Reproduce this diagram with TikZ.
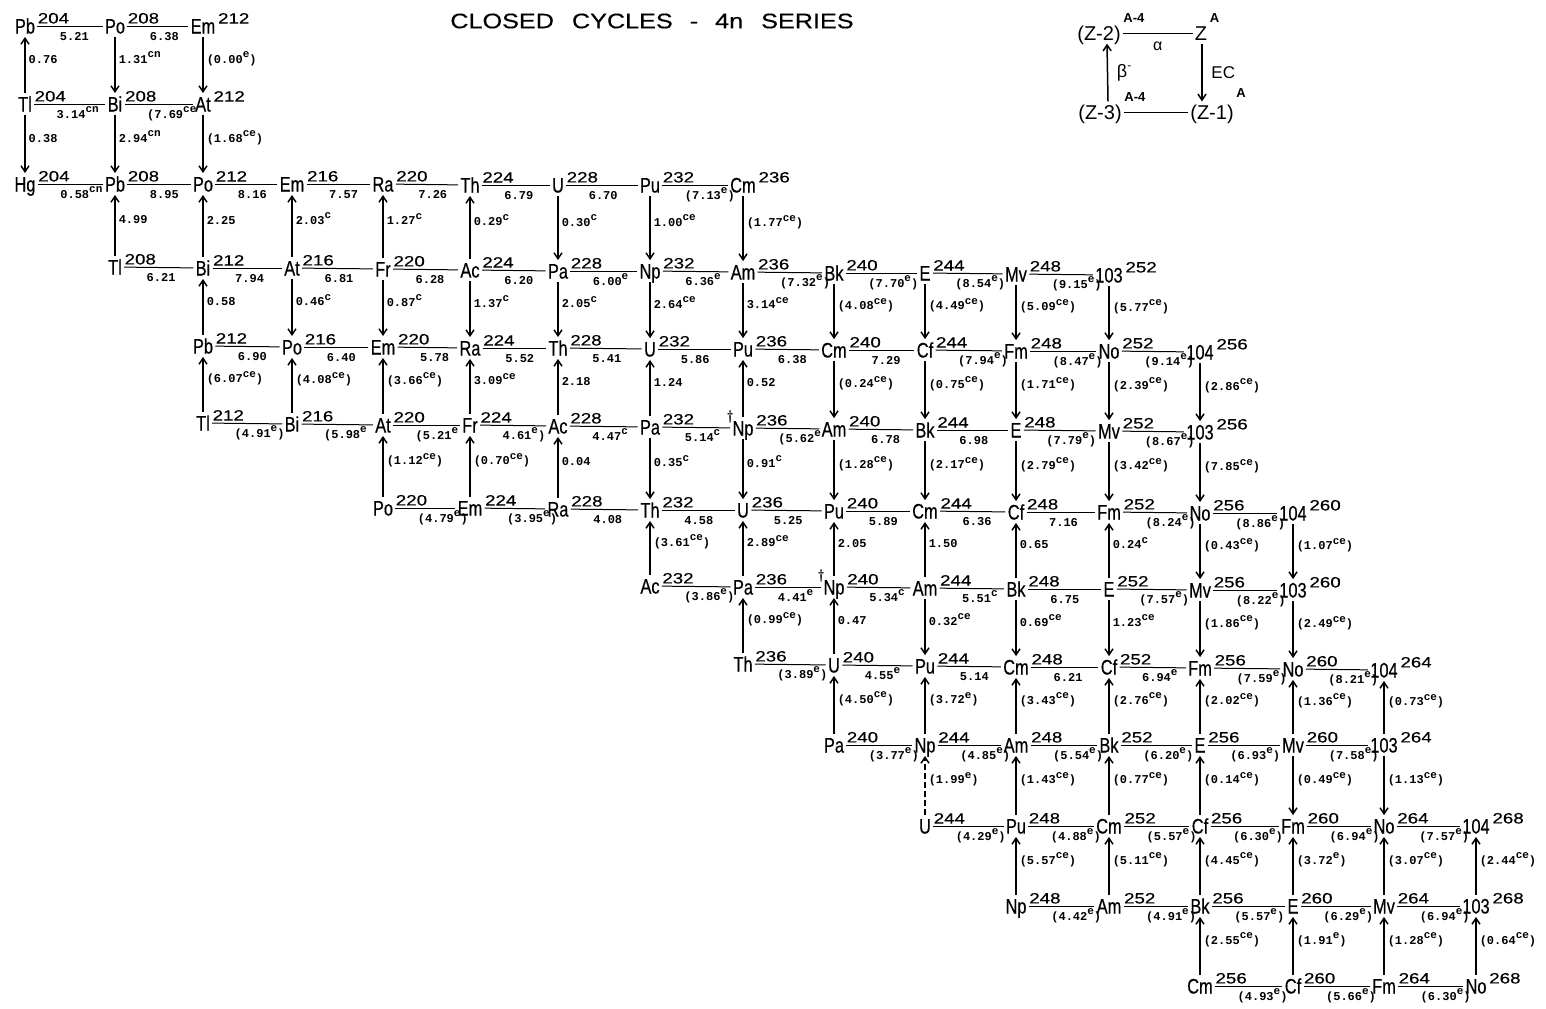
\documentclass[tikz,border=0pt]{standalone}
\usepackage{fontspec}
\usetikzlibrary{arrows.meta}
\newfontfamily\symfont[FakeStretch=0.78,FakeBold=0.4]{Liberation Sans}
\newfontfamily\massfont[FakeStretch=1.25,FakeBold=0.3]{Liberation Sans}
\newfontfamily\numfont{Liberation Mono}
\newfontfamily\legfont{Liberation Sans}
\newfontfamily\titlefont[FakeStretch=1.2,FakeBold=0.4]{Liberation Sans}
\newcommand\su[1]{\raisebox{2.6pt}{\fontsize{5.5}{6}\selectfont #1}}
\newcommand\isonode[5]{\node[sym] (#1) at (#2,#3) {#4};
  \node[mass] (#1m) at ([yshift=1pt]#1.east) {#5};}
\begin{document}
\begin{tikzpicture}[x=0.5pt,y=-0.5pt,
  sym/.style={inner xsep=1pt, inner ysep=1.5pt, text height=7.5pt, text depth=0pt,
    font={\symfont\fontsize{10.5}{12}\selectfont}},
  mass/.style={anchor=south west, inner sep=0pt, font={\massfont\fontsize{7.5}{8}\selectfont}},
  hline/.style={line width=0.5pt},
  varrow/.style={line width=0.75pt, -{Straight Barb[length=3pt,width=4pt]}},
  numf/.style={inner sep=0pt, font={\numfont\bfseries\fontsize{6}{7}\selectfont}},
  hlab/.style={numf, at start, anchor=base west, xshift=11pt, yshift=-7pt},
  vlab/.style={numf, midway, anchor=base west, xshift=1.5pt, yshift=1pt},
  dag/.style={anchor=south, inner sep=0pt, font={\bfseries\fontsize{7}{7}\selectfont}},
  leg/.style={inner xsep=1pt, inner ysep=1.5pt, text height=7.2pt, text depth=0pt,
    font={\legfont\fontsize{10}{12}\selectfont}},
  legsup/.style={anchor=south west, inner sep=0pt, font={\legfont\bfseries\fontsize{6.5}{7}\selectfont}}
]
\useasboundingbox (0,0) rectangle (1546,1008);

\node[font={\titlefont\fontsize{10.5}{12}\selectfont}] (title) at (652,21)
  {CLOSED\hspace{9pt}CYCLES\hspace{8.5pt}-\hspace{8.5pt}4n\hspace{9pt}SERIES};

% legend
\node[leg] (lz2) at (1099,33) {(Z-2)};
\node[legsup] (lz2s) at (lz2.north east) {A-4};
\node[leg] (lz) at (1201,33) {Z};
\node[legsup] (lzs) at (lz.north east) {A};
\node[leg] (lz3) at (1100,112) {(Z-3)};
\node[legsup] (lz3s) at (lz3.north east) {A-4};
\node[leg] (lz1) at (1212,112) {(Z-1)};
\node[legsup] (lz1s) at ([yshift=2pt]lz1.north east) {A};
\draw[hline] (lz2) -- (lz) node[midway, below=1pt, font={\legfont\fontsize{8}{9}\selectfont}] {α};
\draw[hline] (lz3) -- (lz1);
\draw[varrow] ([xshift=0.5pt]lz.south) -- ([xshift=-5pt]lz1.north)
  node[midway, right=1pt, font={\legfont\fontsize{8.5}{9}\selectfont}] {EC};
\draw[varrow] ([xshift=4pt]lz3.north) -- ([xshift=4pt]lz2.south)
  node[midway, right=1pt, font={\legfont\fontsize{9}{9}\selectfont}] {β\textsuperscript{-}};

% nuclides
\isonode{pb204}{25}{26}{Pb}{204}
\isonode{po208}{115}{26}{Po}{208}
\isonode{em212}{203}{26}{Em}{212}
\isonode{tl204}{25}{104}{Tl}{204}
\isonode{bi208}{115}{104}{Bi}{208}
\isonode{at212}{203}{104}{At}{212}
\isonode{hg204}{25}{184}{Hg}{204}
\isonode{pb208}{115}{184}{Pb}{208}
\isonode{po212}{203}{184}{Po}{212}
\isonode{em216}{292}{184}{Em}{216}
\isonode{ra220}{383}{184}{Ra}{220}
\isonode{th224}{470}{185}{Th}{224}
\isonode{u228}{558}{185}{U}{228}
\isonode{pu232}{650}{185}{Pu}{232}
\isonode{cm236}{743}{185}{Cm}{236}
\isonode{tl208}{115}{267}{Tl}{208}
\isonode{bi212}{203}{268}{Bi}{212}
\isonode{at216}{292}{268}{At}{216}
\isonode{fr220}{383}{269}{Fr}{220}
\isonode{ac224}{470}{270}{Ac}{224}
\isonode{pa228}{558}{271}{Pa}{228}
\isonode{np232}{650}{271}{Np}{232}
\isonode{am236}{743}{272}{Am}{236}
\isonode{bk240}{834}{273}{Bk}{240}
\isonode{e244}{925}{273}{E}{244}
\isonode{mv248}{1016}{274}{Mv}{248}
\isonode{lr252}{1109}{275}{103}{252}
\isonode{pb212}{203}{346}{Pb}{212}
\isonode{po216}{292}{347}{Po}{216}
\isonode{em220}{383}{347}{Em}{220}
\isonode{ra224}{470}{348}{Ra}{224}
\isonode{th228}{558}{348}{Th}{228}
\isonode{u232}{650}{349}{U}{232}
\isonode{pu236}{743}{349}{Pu}{236}
\isonode{cm240}{834}{350}{Cm}{240}
\isonode{cf244}{925}{350}{Cf}{244}
\isonode{fm248}{1016}{351}{Fm}{248}
\isonode{no252}{1109}{351}{No}{252}
\isonode{rf256}{1200}{352}{104}{256}
\isonode{tl212}{203}{423}{Tl}{212}
\isonode{bi216}{292}{424}{Bi}{216}
\isonode{at220}{383}{425}{At}{220}
\isonode{fr224}{470}{425}{Fr}{224}
\isonode{ac228}{558}{426}{Ac}{228}
\isonode{pa232}{650}{427}{Pa}{232}
\isonode{np236}{743}{428}{Np}{236}
\isonode{am240}{834}{429}{Am}{240}
\isonode{bk244}{925}{430}{Bk}{244}
\isonode{e248}{1016}{430}{E}{248}
\isonode{mv252}{1109}{431}{Mv}{252}
\isonode{lr256}{1200}{432}{103}{256}
\isonode{po220}{383}{508}{Po}{220}
\isonode{em224}{470}{508}{Em}{224}
\isonode{ra228}{558}{509}{Ra}{228}
\isonode{th232}{650}{510}{Th}{232}
\isonode{u236}{743}{510}{U}{236}
\isonode{pu240}{834}{511}{Pu}{240}
\isonode{cm244}{925}{511}{Cm}{244}
\isonode{cf248}{1016}{512}{Cf}{248}
\isonode{fm252}{1109}{512}{Fm}{252}
\isonode{no256}{1200}{513}{No}{256}
\isonode{rf260}{1293}{513}{104}{260}
\isonode{ac232}{650}{586}{Ac}{232}
\isonode{pa236}{743}{587}{Pa}{236}
\isonode{np240}{834}{587}{Np}{240}
\isonode{am244}{925}{588}{Am}{244}
\isonode{bk248}{1016}{589}{Bk}{248}
\isonode{e252}{1109}{589}{E}{252}
\isonode{mv256}{1200}{590}{Mv}{256}
\isonode{lr260}{1293}{590}{103}{260}
\isonode{th236}{743}{664}{Th}{236}
\isonode{u240}{834}{665}{U}{240}
\isonode{pu244}{925}{666}{Pu}{244}
\isonode{cm248}{1016}{667}{Cm}{248}
\isonode{cf252}{1109}{667}{Cf}{252}
\isonode{fm256}{1200}{668}{Fm}{256}
\isonode{no260}{1293}{669}{No}{260}
\isonode{rf264}{1384}{670}{104}{264}
\isonode{pa240}{834}{745}{Pa}{240}
\isonode{np244}{925}{745}{Np}{244}
\isonode{am248}{1016}{745}{Am}{248}
\isonode{bk252}{1109}{745}{Bk}{252}
\isonode{e256}{1200}{745}{E}{256}
\isonode{mv260}{1293}{745}{Mv}{260}
\isonode{lr264}{1384}{745}{103}{264}
\isonode{u244}{925}{826}{U}{244}
\isonode{pu248}{1016}{826}{Pu}{248}
\isonode{cm252}{1109}{826}{Cm}{252}
\isonode{cf256}{1200}{826}{Cf}{256}
\isonode{fm260}{1293}{826}{Fm}{260}
\isonode{no264}{1384}{826}{No}{264}
\isonode{rf268}{1476}{826}{104}{268}
\isonode{np248}{1016}{906}{Np}{248}
\isonode{am252}{1109}{906}{Am}{252}
\isonode{bk256}{1200}{906}{Bk}{256}
\isonode{e260}{1293}{906}{E}{260}
\isonode{mv264}{1384}{906}{Mv}{264}
\isonode{lr268}{1476}{906}{103}{268}
\isonode{cm256}{1200}{986}{Cm}{256}
\isonode{cf260}{1293}{986}{Cf}{260}
\isonode{fm264}{1384}{986}{Fm}{264}
\isonode{no268}{1476}{986}{No}{268}

\node[dag] (np236d) at ([yshift=2pt]np236.west) {\textdagger};
\node[dag] (np240d) at ([yshift=2pt]np240.west) {\textdagger};

% alpha lines
\draw[hline] (pb204) -- (po208) node[hlab] {5.21};
\draw[hline] (po208) -- (em212) node[hlab] {6.38};
\draw[hline] (tl204) -- (bi208) node[hlab] {3.14\su{cn}};
\draw[hline] (bi208) -- (at212) node[hlab] {(7.69\su{ce}};
\draw[hline] (hg204) -- (pb208) node[hlab] {0.58\su{cn}};
\draw[hline] (pb208) -- (po212) node[hlab] {8.95};
\draw[hline] (po212) -- (em216) node[hlab] {8.16};
\draw[hline] (em216) -- (ra220) node[hlab] {7.57};
\draw[hline] (ra220) -- (th224) node[hlab] {7.26};
\draw[hline] (th224) -- (u228) node[hlab] {6.79};
\draw[hline] (u228) -- (pu232) node[hlab] {6.70};
\draw[hline] (pu232) -- (cm236) node[hlab] {(7.13\su{e})};
\draw[hline] (tl208) -- (bi212) node[hlab] {6.21};
\draw[hline] (bi212) -- (at216) node[hlab] {7.94};
\draw[hline] (at216) -- (fr220) node[hlab] {6.81};
\draw[hline] (fr220) -- (ac224) node[hlab] {6.28};
\draw[hline] (ac224) -- (pa228) node[hlab] {6.20};
\draw[hline] (pa228) -- (np232) node[hlab] {6.00\su{e}};
\draw[hline] (np232) -- (am236) node[hlab] {6.36\su{e}};
\draw[hline] (am236) -- (bk240) node[hlab] {(7.32\su{e})};
\draw[hline] (bk240) -- (e244) node[hlab] {(7.70\su{e})};
\draw[hline] (e244) -- (mv248) node[hlab] {(8.54\su{e})};
\draw[hline] (mv248) -- (lr252) node[hlab] {(9.15\su{e})};
\draw[hline] (pb212) -- (po216) node[hlab] {6.90};
\draw[hline] (po216) -- (em220) node[hlab] {6.40};
\draw[hline] (em220) -- (ra224) node[hlab] {5.78};
\draw[hline] (ra224) -- (th228) node[hlab] {5.52};
\draw[hline] (th228) -- (u232) node[hlab] {5.41};
\draw[hline] (u232) -- (pu236) node[hlab] {5.86};
\draw[hline] (pu236) -- (cm240) node[hlab] {6.38};
\draw[hline] (cm240) -- (cf244) node[hlab] {7.29};
\draw[hline] (cf244) -- (fm248) node[hlab] {(7.94\su{e})};
\draw[hline] (fm248) -- (no252) node[hlab] {(8.47\su{e})};
\draw[hline] (no252) -- (rf256) node[hlab] {(9.14\su{e})};
\draw[hline] (tl212) -- (bi216) node[hlab] {(4.91\su{e})};
\draw[hline] (bi216) -- (at220) node[hlab] {(5.98\su{e}};
\draw[hline] (at220) -- (fr224) node[hlab] {(5.21\su{e}};
\draw[hline] (fr224) -- (ac228) node[hlab] {4.61\su{e})};
\draw[hline] (ac228) -- (pa232) node[hlab] {4.47\su{c}};
\draw[hline] (pa232) -- (np236) node[hlab] {5.14\su{c}};
\draw[hline] (np236) -- (am240) node[hlab] {(5.62\su{e}};
\draw[hline] (am240) -- (bk244) node[hlab] {6.78};
\draw[hline] (bk244) -- (e248) node[hlab] {6.98};
\draw[hline] (e248) -- (mv252) node[hlab] {(7.79\su{e})};
\draw[hline] (mv252) -- (lr256) node[hlab] {(8.67\su{e})};
\draw[hline] (po220) -- (em224) node[hlab] {(4.79\su{e})};
\draw[hline] (em224) -- (ra228) node[hlab] {(3.95\su{e})};
\draw[hline] (ra228) -- (th232) node[hlab] {4.08};
\draw[hline] (th232) -- (u236) node[hlab] {4.58};
\draw[hline] (u236) -- (pu240) node[hlab] {5.25};
\draw[hline] (pu240) -- (cm244) node[hlab] {5.89};
\draw[hline] (cm244) -- (cf248) node[hlab] {6.36};
\draw[hline] (cf248) -- (fm252) node[hlab] {7.16};
\draw[hline] (fm252) -- (no256) node[hlab] {(8.24\su{e})};
\draw[hline] (no256) -- (rf260) node[hlab] {(8.86\su{e})};
\draw[hline] (ac232) -- (pa236) node[hlab] {(3.86\su{e})};
\draw[hline] (pa236) -- (np240) node[hlab] {4.41\su{e}};
\draw[hline] (np240) -- (am244) node[hlab] {5.34\su{c}};
\draw[hline] (am244) -- (bk248) node[hlab] {5.51\su{c}};
\draw[hline] (bk248) -- (e252) node[hlab] {6.75};
\draw[hline] (e252) -- (mv256) node[hlab] {(7.57\su{e})};
\draw[hline] (mv256) -- (lr260) node[hlab] {(8.22\su{e})};
\draw[hline] (th236) -- (u240) node[hlab] {(3.89\su{e})};
\draw[hline] (u240) -- (pu244) node[hlab] {4.55\su{e}};
\draw[hline] (pu244) -- (cm248) node[hlab] {5.14};
\draw[hline] (cm248) -- (cf252) node[hlab] {6.21};
\draw[hline] (cf252) -- (fm256) node[hlab] {6.94\su{e}};
\draw[hline] (fm256) -- (no260) node[hlab] {(7.59\su{e})};
\draw[hline] (no260) -- (rf264) node[hlab] {(8.21\su{e})};
\draw[hline] (pa240) -- (np244) node[hlab] {(3.77\su{e})};
\draw[hline] (np244) -- (am248) node[hlab] {(4.85\su{e})};
\draw[hline] (am248) -- (bk252) node[hlab] {(5.54\su{e})};
\draw[hline] (bk252) -- (e256) node[hlab] {(6.20\su{e})};
\draw[hline] (e256) -- (mv260) node[hlab] {(6.93\su{e})};
\draw[hline] (mv260) -- (lr264) node[hlab] {(7.58\su{e})};
\draw[hline] (u244) -- (pu248) node[hlab] {(4.29\su{e})};
\draw[hline] (pu248) -- (cm252) node[hlab] {(4.88\su{e})};
\draw[hline] (cm252) -- (cf256) node[hlab] {(5.57\su{e})};
\draw[hline] (cf256) -- (fm260) node[hlab] {(6.30\su{e})};
\draw[hline] (fm260) -- (no264) node[hlab] {(6.94\su{e})};
\draw[hline] (no264) -- (rf268) node[hlab] {(7.57\su{e})};
\draw[hline] (np248) -- (am252) node[hlab] {(4.42\su{e})};
\draw[hline] (am252) -- (bk256) node[hlab] {(4.91\su{e})};
\draw[hline] (bk256) -- (e260) node[hlab] {(5.57\su{e})};
\draw[hline] (e260) -- (mv264) node[hlab] {(6.29\su{e})};
\draw[hline] (mv264) -- (lr268) node[hlab] {(6.94\su{e})};
\draw[hline] (cm256) -- (cf260) node[hlab] {(4.93\su{e})};
\draw[hline] (cf260) -- (fm264) node[hlab] {(5.66\su{e})};
\draw[hline] (fm264) -- (no268) node[hlab] {(6.30\su{e})};

% beta / EC arrows
\draw[varrow] (tl204) -- (pb204) node[vlab] {0.76};
\draw[varrow] (po208) -- (bi208) node[vlab] {1.31\su{cn}};
\draw[varrow] (em212) -- (at212) node[vlab] {(0.00\su{e})};
\draw[varrow] (tl204) -- (hg204) node[vlab] {0.38};
\draw[varrow] (bi208) -- (pb208) node[vlab] {2.94\su{cn}};
\draw[varrow] (at212) -- (po212) node[vlab] {(1.68\su{ce})};
\draw[varrow] (tl208) -- (pb208) node[vlab] {4.99};
\draw[varrow] (bi212) -- (po212) node[vlab] {2.25};
\draw[varrow] (at216) -- (em216) node[vlab] {2.03\su{c}};
\draw[varrow] (fr220) -- (ra220) node[vlab] {1.27\su{c}};
\draw[varrow] (ac224) -- (th224) node[vlab] {0.29\su{c}};
\draw[varrow] (u228) -- (pa228) node[vlab] {0.30\su{c}};
\draw[varrow] (pu232) -- (np232) node[vlab] {1.00\su{ce}};
\draw[varrow] (cm236) -- (am236) node[vlab] {(1.77\su{ce})};
\draw[varrow] (pb212) -- (bi212) node[vlab] {0.58};
\draw[varrow] (at216) -- (po216) node[vlab] {0.46\su{c}};
\draw[varrow] (fr220) -- (em220) node[vlab] {0.87\su{c}};
\draw[varrow] (ac224) -- (ra224) node[vlab] {1.37\su{c}};
\draw[varrow] (pa228) -- (th228) node[vlab] {2.05\su{c}};
\draw[varrow] (np232) -- (u232) node[vlab] {2.64\su{ce}};
\draw[varrow] (am236) -- (pu236) node[vlab] {3.14\su{ce}};
\draw[varrow] (bk240) -- (cm240) node[vlab] {(4.08\su{ce})};
\draw[varrow] (e244) -- (cf244) node[vlab] {(4.49\su{ce})};
\draw[varrow] (mv248) -- (fm248) node[vlab] {(5.09\su{ce})};
\draw[varrow] (lr252) -- (no252) node[vlab] {(5.77\su{ce})};
\draw[varrow] (tl212) -- (pb212) node[vlab] {(6.07\su{ce})};
\draw[varrow] (bi216) -- (po216) node[vlab] {(4.08\su{ce})};
\draw[varrow] (at220) -- (em220) node[vlab] {(3.66\su{ce})};
\draw[varrow] (fr224) -- (ra224) node[vlab] {3.09\su{ce}};
\draw[varrow] (ac228) -- (th228) node[vlab] {2.18};
\draw[varrow] (pa232) -- (u232) node[vlab] {1.24};
\draw[varrow] (np236) -- (pu236) node[vlab] {0.52};
\draw[varrow] (cm240) -- (am240) node[vlab] {(0.24\su{ce})};
\draw[varrow] (cf244) -- (bk244) node[vlab] {(0.75\su{ce})};
\draw[varrow] (fm248) -- (e248) node[vlab] {(1.71\su{ce})};
\draw[varrow] (no252) -- (mv252) node[vlab] {(2.39\su{ce})};
\draw[varrow] (rf256) -- (lr256) node[vlab] {(2.86\su{ce})};
\draw[varrow] (po220) -- (at220) node[vlab] {(1.12\su{ce})};
\draw[varrow] (em224) -- (fr224) node[vlab] {(0.70\su{ce})};
\draw[varrow] (ra228) -- (ac228) node[vlab] {0.04};
\draw[varrow] (pa232) -- (th232) node[vlab] {0.35\su{c}};
\draw[varrow] (np236) -- (u236) node[vlab] {0.91\su{c}};
\draw[varrow] (am240) -- (pu240) node[vlab] {(1.28\su{ce})};
\draw[varrow] (bk244) -- (cm244) node[vlab] {(2.17\su{ce})};
\draw[varrow] (e248) -- (cf248) node[vlab] {(2.79\su{ce})};
\draw[varrow] (mv252) -- (fm252) node[vlab] {(3.42\su{ce})};
\draw[varrow] (lr256) -- (no256) node[vlab] {(7.85\su{ce})};
\draw[varrow] (ac232) -- (th232) node[vlab] {(3.61\su{ce})};
\draw[varrow] (pa236) -- (u236) node[vlab] {2.89\su{ce}};
\draw[varrow] (np240) -- (pu240) node[vlab] {2.05};
\draw[varrow] (am244) -- (cm244) node[vlab] {1.50};
\draw[varrow] (bk248) -- (cf248) node[vlab] {0.65};
\draw[varrow] (e252) -- (fm252) node[vlab] {0.24\su{c}};
\draw[varrow] (no256) -- (mv256) node[vlab] {(0.43\su{ce})};
\draw[varrow] (rf260) -- (lr260) node[vlab] {(1.07\su{ce})};
\draw[varrow] (th236) -- (pa236) node[vlab] {(0.99\su{ce})};
\draw[varrow] (u240) -- (np240) node[vlab] {0.47};
\draw[varrow] (am244) -- (pu244) node[vlab] {0.32\su{ce}};
\draw[varrow] (bk248) -- (cm248) node[vlab] {0.69\su{ce}};
\draw[varrow] (e252) -- (cf252) node[vlab] {1.23\su{ce}};
\draw[varrow] (mv256) -- (fm256) node[vlab] {(1.86\su{ce})};
\draw[varrow] (lr260) -- (no260) node[vlab] {(2.49\su{ce})};
\draw[varrow] (pa240) -- (u240) node[vlab] {(4.50\su{ce})};
\draw[varrow] (np244) -- (pu244) node[vlab] {(3.72\su{e})};
\draw[varrow] (am248) -- (cm248) node[vlab] {(3.43\su{ce})};
\draw[varrow] (bk252) -- (cf252) node[vlab] {(2.76\su{ce})};
\draw[varrow] (e256) -- (fm256) node[vlab] {(2.02\su{ce})};
\draw[varrow] (mv260) -- (no260) node[vlab] {(1.36\su{ce})};
\draw[varrow] (lr264) -- (rf264) node[vlab] {(0.73\su{ce})};
\draw[varrow, dash pattern=on 3pt off 1.5pt] (u244) -- (np244) node[vlab] {(1.99\su{e})};
\draw[varrow] (pu248) -- (am248) node[vlab] {(1.43\su{ce})};
\draw[varrow] (cm252) -- (bk252) node[vlab] {(0.77\su{ce})};
\draw[varrow] (cf256) -- (e256) node[vlab] {(0.14\su{ce})};
\draw[varrow] (mv260) -- (fm260) node[vlab] {(0.49\su{ce})};
\draw[varrow] (lr264) -- (no264) node[vlab] {(1.13\su{ce})};
\draw[varrow] (np248) -- (pu248) node[vlab] {(5.57\su{ce})};
\draw[varrow] (am252) -- (cm252) node[vlab] {(5.11\su{ce})};
\draw[varrow] (bk256) -- (cf256) node[vlab] {(4.45\su{ce})};
\draw[varrow] (e260) -- (fm260) node[vlab] {(3.72\su{e})};
\draw[varrow] (mv264) -- (no264) node[vlab] {(3.07\su{ce})};
\draw[varrow] (lr268) -- (rf268) node[vlab] {(2.44\su{ce})};
\draw[varrow] (cm256) -- (bk256) node[vlab] {(2.55\su{ce})};
\draw[varrow] (cf260) -- (e260) node[vlab] {(1.91\su{e})};
\draw[varrow] (fm264) -- (mv264) node[vlab] {(1.28\su{ce})};
\draw[varrow] (no268) -- (lr268) node[vlab] {(0.64\su{ce})};
\end{tikzpicture}
\end{document}
